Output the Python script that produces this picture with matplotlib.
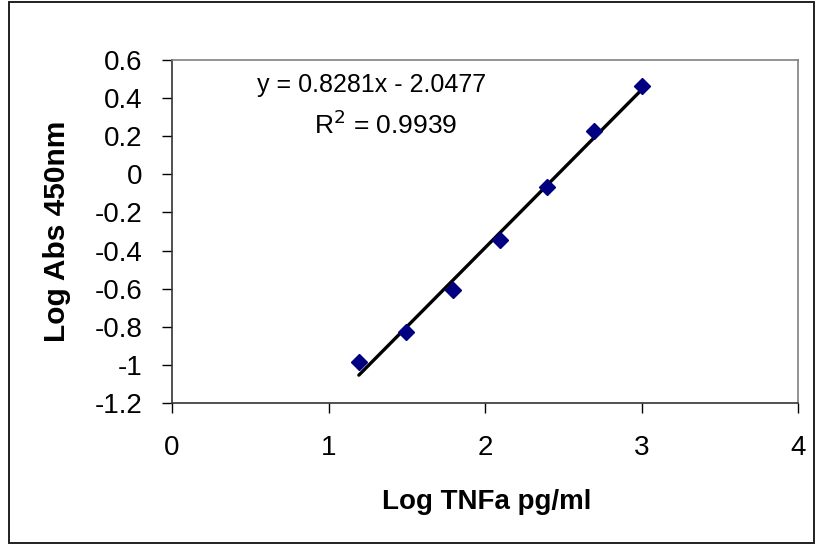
import numpy as np
import matplotlib
matplotlib.use("Agg")
from matplotlib import pyplot as plt
from matplotlib.patches import Rectangle

# standard curve values
log_conc = [1.194, 1.495, 1.796, 2.097, 2.398, 2.699, 3.0]
log_abs = [-0.983, -0.827, -0.605, -0.346, -0.068, 0.230, 0.462]

x_ticks = [0, 1, 2, 3, 4]
y_ticks = [-1.2, -1.0, -0.8, -0.6, -0.4, -0.2, 0.0, 0.2, 0.4, 0.6]
y_labels = ["-1.2", "-1", "-0.8", "-0.6", "-0.4", "-0.2", "0", "0.2", "0.4", "0.6"]

plt.rcParams['font.family'] = ['Liberation Sans', 'DejaVu Sans']

W, H = 816, 544
fig = plt.figure(figsize=(W / 100, H / 100), dpi=100)
# chart area frame
fig.patches.append(Rectangle((9 / W, 1 / H), 805 / W, 541 / H, transform=fig.transFigure,
                             fill=False, edgecolor='#202020', linewidth=1.4))

ax = fig.add_axes([172 / W, 1 - 403 / H, 626 / W, 343 / H])

# linear trendline
p = np.polyfit(log_conc, log_abs, 1)
xl = np.array([min(log_conc), max(log_conc)])
ax.plot(xl, np.polyval(p, xl), color='black', linewidth=2.4, solid_capstyle='round', zorder=2)

ax.plot(log_conc, log_abs, linestyle='none', marker='D', markersize=8.5,
        color='#000080', zorder=3)

ax.set_xlim(0, 4)
ax.set_ylim(-1.2, 0.6)
ax.set_xticks(x_ticks)
ax.set_yticks(y_ticks)
ax.set_yticklabels(y_labels)
ax.tick_params(axis='both', direction='out', length=7, width=1, labelsize=20, colors='black')
ax.tick_params(axis='x', pad=16)
ax.tick_params(axis='y', pad=14.5)

for s in ['top', 'right']:
    ax.spines[s].set_color('#808080')
    ax.spines[s].set_linewidth(1.2)
for s in ['left', 'bottom']:
    ax.spines[s].set_color('#333333')
    ax.spines[s].set_linewidth(1.2)

fig.text(486.5 / W, 1 - 509 / H, 'Log TNFa pg/ml', fontsize=20, fontweight='bold',
         ha='center', va='baseline')
fig.text(57 / W, 1 - 231.5 / H, 'Log Abs 450nm', fontsize=21.5, fontweight='bold',
         ha='center', va='center', rotation=90)

ax.text(0.318, 0.9076, 'y = 0.8281x - 2.0477', transform=ax.transAxes,
        fontsize=18, ha='center', va='baseline')
ax.text(0.342, 0.785, r'R$^2$ = 0.9939', transform=ax.transAxes,
        fontsize=19, ha='center', va='baseline')

plt.savefig('out.png', dpi=100)
